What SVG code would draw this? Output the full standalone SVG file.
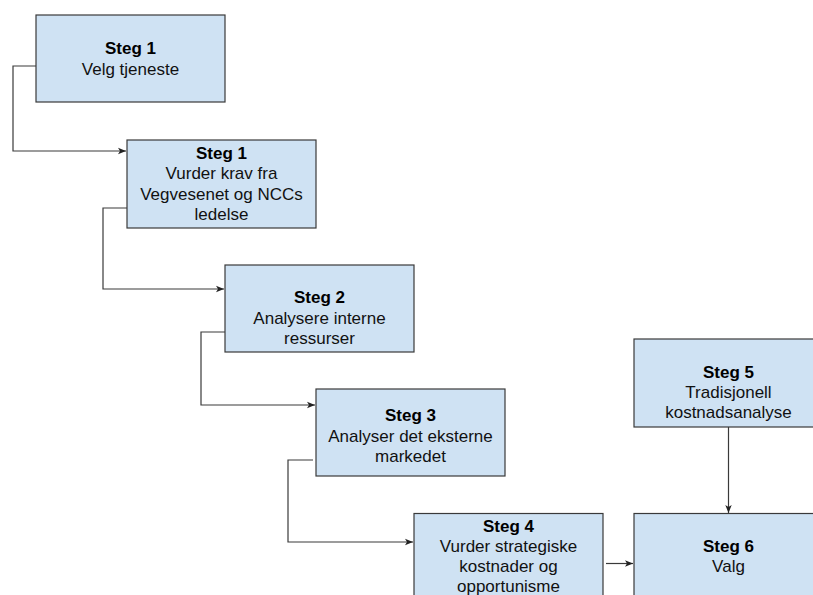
<svg xmlns="http://www.w3.org/2000/svg" width="813" height="595" viewBox="0 0 813 595">
<style>
.box{fill:#cfe2f3;stroke:#3a3a3a;stroke-width:1.2}
.t{font-family:"Liberation Sans",Arial,sans-serif;font-size:17px;text-anchor:middle;fill:#111}
.b{font-weight:bold;fill:#000}
.c{fill:none;stroke:#3a3a3a;stroke-width:1.2}
</style>
<defs>
<marker id="arr" viewBox="0 0 10 10" refX="10" refY="5" markerWidth="8" markerHeight="8" markerUnits="userSpaceOnUse" orient="auto">
<path d="M0,1 L10,5 L0,9 L2.5,5 Z" fill="#222"/>
</marker>
</defs>
<rect width="813" height="595" fill="#ffffff"/>
<g id="connectors">
<path class="c" d="M36,66 H13 V151 H126" marker-end="url(#arr)"/>
<path class="c" d="M127,208 H103 V289 H224" marker-end="url(#arr)"/>
<path class="c" d="M225,332 H201 V405 H315" marker-end="url(#arr)"/>
<path class="c" d="M313,460 H288 V542 H413" marker-end="url(#arr)"/>
<path class="c" d="M606,563.5 H633" marker-end="url(#arr)"/>
<path class="c" d="M728.5,427 V513" marker-end="url(#arr)"/>
</g>
<g id="step1a">
<rect class="box" x="36" y="15" width="189" height="87"/>
<text class="t b" x="130.5" y="54">Steg 1</text>
<text class="t" x="130.5" y="74.5">Velg tjeneste</text>
</g>
<g id="step1b">
<rect class="box" x="127" y="140" width="189" height="88"/>
<text class="t b" x="221.5" y="158.5">Steg 1</text>
<text class="t" x="221.5" y="179">Vurder krav fra</text>
<text class="t" x="221.5" y="199.5">Vegvesenet og NCCs</text>
<text class="t" x="221.5" y="220">ledelse</text>
</g>
<g id="step2">
<rect class="box" x="225" y="265" width="189" height="87"/>
<text class="t b" x="319.5" y="303">Steg 2</text>
<text class="t" x="319.5" y="323.5">Analysere interne</text>
<text class="t" x="319.5" y="343.5">ressurser</text>
</g>
<g id="step3">
<rect class="box" x="316" y="389" width="189" height="87"/>
<text class="t b" x="410.5" y="421">Steg 3</text>
<text class="t" x="410.5" y="441.5">Analyser det eksterne</text>
<text class="t" x="410.5" y="462">markedet</text>
</g>
<g id="step4">
<rect class="box" x="414" y="513.5" width="189" height="88"/>
<text class="t b" x="508.5" y="531.5">Steg 4</text>
<text class="t" x="508.5" y="552">Vurder strategiske</text>
<text class="t" x="508.5" y="572">kostnader og</text>
<text class="t" x="508.5" y="592">opportunisme</text>
</g>
<g id="step5">
<rect class="box" x="634" y="339" width="189" height="88"/>
<text class="t b" x="728.5" y="377.5">Steg 5</text>
<text class="t" x="728.5" y="398">Tradisjonell</text>
<text class="t" x="728.5" y="418">kostnadsanalyse</text>
</g>
<g id="step6">
<rect class="box" x="634" y="513.5" width="189" height="88"/>
<text class="t b" x="728.5" y="552">Steg 6</text>
<text class="t" x="728.5" y="572">Valg</text>
</g>
</svg>
